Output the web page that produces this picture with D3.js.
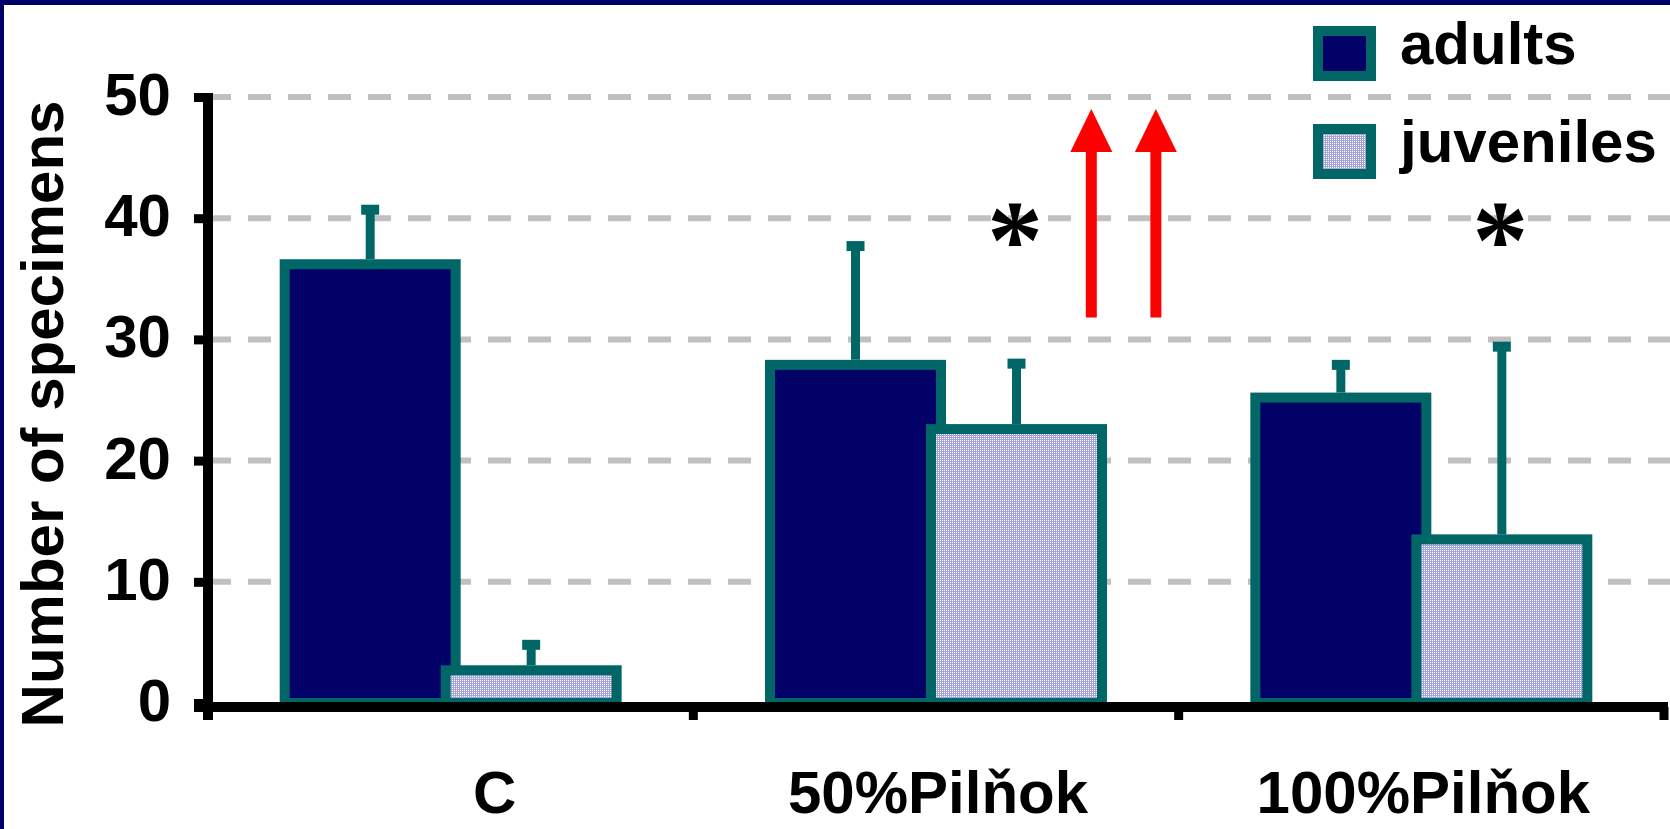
<!DOCTYPE html>
<html>
<head>
<meta charset="utf-8">
<script src="https://cdn.jsdelivr.net/npm/d3@7"></script>
<style>
	body { margin: 0; background: #fff; }
	svg { display: block; font-family: "Liberation Sans", Arial, sans-serif; font-weight: bold; }
</style>
</head>
<body>
<div id="chart"></div>
<script>
	'use strict';

	// data
	var categories = ['C', '50%Pilňok', '100%Pilňok'];
	var series = ['adults', 'juveniles'];
	var adultsMean = [36.2, 27.9, 25.2];
	var adultsSD = [4.5, 9.8, 2.7];
	var juvenilesMean = [2.7, 22.6, 13.5];
	var juvenilesSD = [2.1, 5.4, 15.9];
	var yTicks = [0, 10, 20, 30, 40, 50];
	var gridTicks = [10, 20, 30, 40, 50];
	var starCategories = ['50%Pilňok', '100%Pilňok'];
	var starValue = 38.8;
	var arrowOffsets = [0.82, 0.953]; // fraction of the 50% band
	var arrowRange = [31.8, 49];

	var width = 1670,
		height = 829;

	var colAdults = '#000066',
		colEdge = '#006666',
		colGrid = '#c0c0c0';

	var xScale = d3.scaleBand().domain(categories).range([208, 1664]).padding(0),
		bw = xScale.bandwidth(),
		xInner = d3.scaleBand().domain(series).range([-0.342 * bw, 0.342 * bw]),
		barW = xInner.bandwidth(),
		yScale = d3.scaleLinear().domain([0, 50]).range([703, 97]);

	var rows = [];
	categories.forEach(function (c, i) {
		rows.push({ cat: c, s: 'adults', v: adultsMean[i], sd: adultsSD[i] });
		rows.push({ cat: c, s: 'juveniles', v: juvenilesMean[i], sd: juvenilesSD[i] });
	});

	var center = function (d) { return xScale(d.cat) + bw / 2; };
	var barX = function (d) {
		return center(d) + xInner(d.s) + (d.s === 'adults' ? 0 : -5);
	};
	var barMid = function (d) { return barX(d) + (barW + 5) / 2; };

	var svg = d3.select('#chart').append('svg')
		.attr('width', width)
		.attr('height', height);

	var defs = svg.append('defs');
	var pat = defs.append('pattern')
		.attr('id', 'dots')
		.attr('patternUnits', 'userSpaceOnUse')
		.attr('width', 2)
		.attr('height', 2);
	pat.append('rect').attr('width', 2).attr('height', 2).attr('fill', '#a4a4d8');
	pat.append('rect').attr('width', 1).attr('height', 1).attr('fill', '#ffffff');

	var fillFor = function (s) { return s === 'adults' ? colAdults : 'url(#dots)'; };

	// frame
	svg.append('rect').attr('x', 0).attr('y', 0).attr('width', width).attr('height', 5).attr('fill', colAdults);
	svg.append('rect').attr('x', 0).attr('y', 0).attr('width', 4).attr('height', height).attr('fill', colAdults);

	// GRID
	svg.append('g')
		.selectAll('line')
		.data(gridTicks)
		.enter().append('line')
			.attr('x1', 208)
			.attr('x2', width)
			.attr('y1', function (d) { return yScale(d); })
			.attr('y2', function (d) { return yScale(d); })
			.attr('stroke', colGrid)
			.attr('stroke-width', 6)
			.attr('stroke-dasharray', '23,17');

	// BARS
	svg.append('g')
		.selectAll('rect')
		.data(rows)
		.enter().append('rect')
			.attr('x', barX)
			.attr('y', function (d) { return yScale(d.v); })
			.attr('width', barW + 5)
			.attr('height', function (d) { return yScale(0) - yScale(d.v); })
			.attr('fill', function (d) { return fillFor(d.s); })
			.attr('stroke', colEdge)
			.attr('stroke-width', 10);

	// ERROR BARS
	var err = svg.append('g').selectAll('g').data(rows).enter().append('g');
	err.append('line')
		.attr('x1', barMid).attr('x2', barMid)
		.attr('y1', function (d) { return yScale(d.v) - 5; })
		.attr('y2', function (d) { return yScale(d.v + d.sd); })
		.attr('stroke', colEdge)
		.attr('stroke-width', 9);
	err.append('line')
		.attr('x1', function (d) { return barMid(d) - 9; })
		.attr('x2', function (d) { return barMid(d) + 9; })
		.attr('y1', function (d) { return yScale(d.v + d.sd); })
		.attr('y2', function (d) { return yScale(d.v + d.sd); })
		.attr('stroke', colEdge)
		.attr('stroke-width', 10);

	// AXIS LEFT
	var axisLeft = svg.append('g')
		.attr('transform', 'translate(208,0)')
		.call(d3.axisLeft(yScale).tickValues(yTicks).tickSize(14).tickSizeOuter(0).tickPadding(23));
	axisLeft.select('.domain').remove();
	axisLeft.selectAll('.tick line').attr('stroke', '#000').attr('stroke-width', 9);
	axisLeft.selectAll('.tick text')
		.attr('fill', '#000')
		.attr('font-size', 60)
		.attr('font-family', '"Liberation Sans", Arial, sans-serif')
		.attr('font-weight', 'bold')
		.attr('dy', '0.29em');

	svg.append('line')
		.attr('x1', 208).attr('x2', 208)
		.attr('y1', yScale(50) - 4).attr('y2', 720)
		.attr('stroke', '#000').attr('stroke-width', 10);

	// AXIS BOTTOM
	svg.append('line')
		.attr('x1', 194).attr('x2', 1668)
		.attr('y1', 707).attr('y2', 707)
		.attr('stroke', '#000').attr('stroke-width', 10);

	var bounds = categories.map(function (c) { return xScale(c); }).concat([xScale.range()[1]]);
	svg.append('g')
		.selectAll('line')
		.data(bounds)
		.enter().append('line')
			.attr('x1', function (d) { return d; })
			.attr('x2', function (d) { return d; })
			.attr('y1', 707)
			.attr('y2', 720)
			.attr('stroke', '#000')
			.attr('stroke-width', 9);

	// the "C" label sits right of its band centre in the original
	svg.append('g')
		.selectAll('text')
		.data(categories)
		.enter().append('text')
			.attr('x', function (d, i) { return xScale(d) + bw / 2 + (i === 0 ? 44 : 2); })
			.attr('y', 813)
			.attr('text-anchor', 'middle')
			.attr('font-size', 60)
			.text(function (d) { return d; });

	svg.append('text')
		.attr('transform', 'translate(63,414) rotate(-90)')
		.attr('text-anchor', 'middle')
		.attr('font-size', 60)
		.text('Number of specimens');

	// STARS
	svg.append('g')
		.selectAll('text')
		.data(starCategories)
		.enter().append('text')
			.attr('x', function (d) { return xScale(d) + bw / 2 + xInner('juveniles') + barW / 2 - 4; })
			.attr('y', yScale(starValue) + 45)
			.attr('text-anchor', 'middle')
			.attr('font-family', '"Liberation Serif", "Times New Roman", serif')
			.attr('font-size', 112)
			.text('*');

	// ARROWS
	var arrows = svg.append('g').selectAll('g').data(arrowOffsets).enter().append('g');
	var ax = function (d) { return xScale('50%Pilňok') + d * bw; };
	arrows.append('line')
		.attr('x1', ax).attr('x2', ax)
		.attr('y1', yScale(arrowRange[0]))
		.attr('y2', yScale(arrowRange[1]) + 40)
		.attr('stroke', '#ff0000')
		.attr('stroke-width', 11);
	arrows.append('path')
		.attr('d', function (d) {
			var x = ax(d), yt = yScale(arrowRange[1]);
			return 'M' + (x - 21) + ',' + (yt + 43) + 'L' + x + ',' + yt + 'L' + (x + 21) + ',' + (yt + 43) + 'Z';
		})
		.attr('fill', '#ff0000');

	// LEGEND
	var legend = svg.append('g').selectAll('g').data(series).enter().append('g')
		.attr('transform', function (d, i) { return 'translate(1318,' + (31 + i * 98) + ')'; });
	legend.append('rect')
		.attr('width', 53)
		.attr('height', 45)
		.attr('fill', function (d) { return fillFor(d); })
		.attr('stroke', colEdge)
		.attr('stroke-width', 10);
	legend.append('text')
		.attr('x', 82)
		.attr('y', 33)
		.attr('font-size', 60)
		.text(function (d) { return d; });
</script>
</body>
</html>
